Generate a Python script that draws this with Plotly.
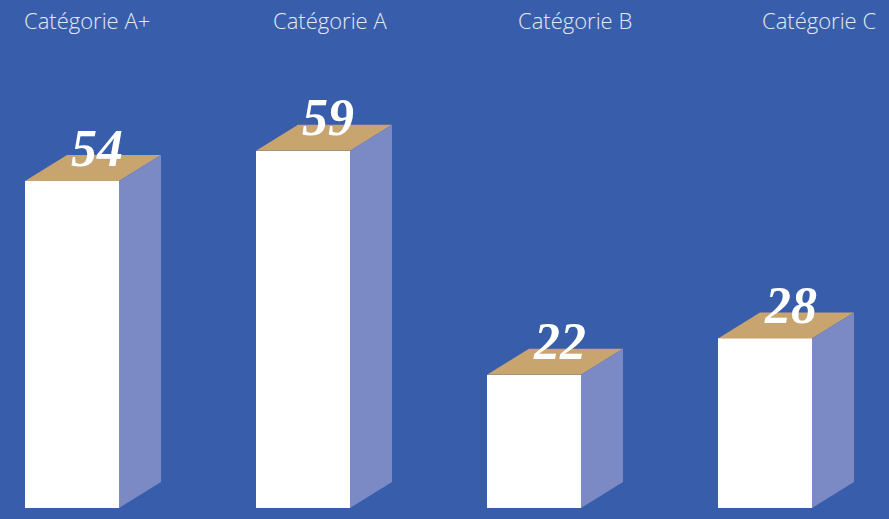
import plotly.graph_objects as go

categories = ["Catégorie A+", "Catégorie A", "Catégorie B", "Catégorie C"]
values = [54, 59, 22, 28]
value_labels = ["54", "59", "22", "28"]

W, H = 889, 519
BG = "#385EAB"
FRONT = "#FFFFFF"
TOP = "#C8A46F"
SIDE = "#7B89C4"

# axis geometry (pixels -> data)
px_per_x = 231.0
x0_px = 72.0
px_per_y = 6.055
base_px = 508.0
x_range = [-x0_px / px_per_x, (W - x0_px) / px_per_x]
y_range = [-(H - base_px) / px_per_y, base_px / px_per_y]

bar_w = 94 / px_per_x
dx = 42 / px_per_x
dy = 26 / px_per_y

xs = list(range(len(categories)))
fig = go.Figure()

fig.add_trace(go.Bar(x=xs, y=values, width=bar_w, marker=dict(color=FRONT, line=dict(width=0)),
                     hoverinfo="skip", showlegend=False))

for x, v in zip(xs, values):
    l, r = x - bar_w / 2, x + bar_w / 2
    fig.add_trace(go.Scatter(x=[l, r, r + dx, l + dx, l], y=[v, v, v + dy, v + dy, v],
                             fill="toself", fillcolor=TOP, mode="none",
                             hoverinfo="skip", showlegend=False))
    fig.add_trace(go.Scatter(x=[r, r + dx, r + dx, r, r], y=[0, dy, v + dy, v, 0],
                             fill="toself", fillcolor=SIDE, mode="none",
                             hoverinfo="skip", showlegend=False))

annotations = []
label_px = [87, 330, 575, 819]
for cat, lp in zip(categories, label_px):
    annotations.append(dict(x=lp / W, y=1, xref="paper", yref="paper", yanchor="top",
                            xanchor="center", yshift=-3, text=cat, showarrow=False,
                            font=dict(family="Open Sans", size=22, weight=300, color="#E4E9F4")))
for x, v, t in zip(xs, values, value_labels):
    annotations.append(dict(x=x + dx / 2, y=v, xref="x", yref="y", text="<b><i>%s</i></b>" % t,
                            showarrow=False, yanchor="middle", xanchor="center", xshift=4, yshift=33,
                            font=dict(family="Liberation Serif", size=52, color="#FFFFFF")))

fig.update_layout(
    width=W, height=H, margin=dict(l=0, r=0, t=0, b=0),
    paper_bgcolor=BG, plot_bgcolor=BG, bargap=0,
    xaxis=dict(range=x_range, visible=False, fixedrange=True),
    yaxis=dict(range=y_range, visible=False, fixedrange=True),
    annotations=annotations,
)

fig.write_html("out.html", config={"displayModeBar": False},
               post_script="document.body.style.margin='0';document.body.style.background='%s';" % BG)
